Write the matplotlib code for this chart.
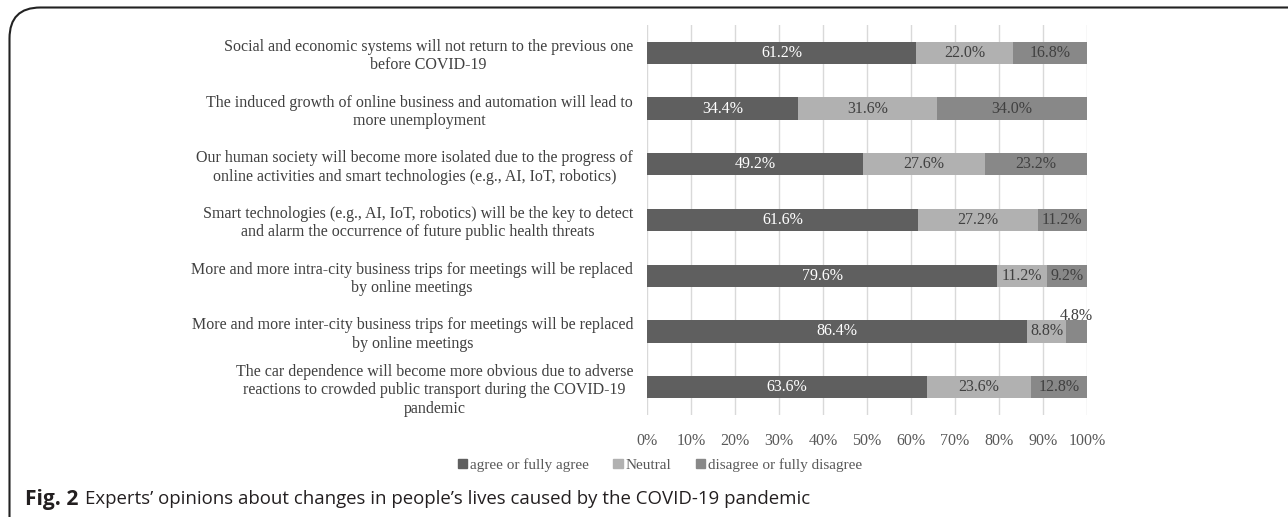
import matplotlib
matplotlib.use("Agg")
import matplotlib.pyplot as plt
from matplotlib.patches import Patch, FancyBboxPatch

plt.rcParams.update({"font.family": "Liberation Serif", "font.size": 11})

statements = [
    "Social and economic systems will not return to the previous one\nbefore COVID-19",
    "The induced growth of online business and automation will lead to\nmore unemployment",
    "Our human society will become more isolated due to the progress of\nonline activities and smart technologies (e.g., AI, IoT, robotics)",
    "Smart technologies (e.g., AI, IoT, robotics) will be the key to detect\nand alarm the occurrence of future public health threats",
    "More and more intra-city business trips for meetings will be replaced\nby online meetings",
    "More and more inter-city business trips for meetings will be replaced\nby online meetings",
    "The car dependence will become more obvious due to adverse\nreactions to crowded public transport during the COVID-19\npandemic",
]
agree = [61.2, 34.4, 49.2, 61.6, 79.6, 86.4, 63.6]
neutral = [22.0, 31.6, 27.6, 27.2, 11.2, 8.8, 23.6]
disagree = [16.8, 34.0, 23.2, 11.2, 9.2, 4.8, 12.8]
series_names = ["agree or fully agree", "Neutral", "disagree or fully disagree"]
colors = ["#5f5f5f", "#b1b1b1", "#888888"]
text_colors = ["white", "#404040", "#404040"]

W, H = 1288, 517
fig = plt.figure(figsize=(W / 100, H / 100), dpi=100)
ax = fig.add_axes([647 / W, 1 - 415 / H, (1087 - 647) / W, (415 - 25) / H])

ypos = list(range(len(statements)))
left = [0.0] * len(statements)
for vals, name, c, tc in zip([agree, neutral, disagree], series_names, colors, text_colors):
    bars = ax.barh(ypos, vals, left=left, height=0.4, color=c, label=name, zorder=3)
    for b, v, l in zip(bars, vals, left):
        cx = l + v / 2
        cy = b.get_y() + b.get_height() / 2
        if v < 6:
            ax.text(cx, b.get_y() - 0.01, f"{v:.1f}%", ha="center", va="baseline",
                    color="#404040", fontsize=11.5, zorder=4)
        else:
            ax.text(cx, cy, f"{v:.1f}%", ha="center", va="center", color=tc,
                    fontsize=11.5, zorder=4)
    left = [l + v for l, v in zip(left, vals)]

ax.set_xlim(0, 100)
ax.set_ylim(len(statements) - 0.5, -0.5)
ax.set_xticks(range(0, 101, 10))
ax.set_xticklabels([f"{t}%" for t in range(0, 101, 10)])
ax.set_yticks(ypos)
ax.set_yticklabels(statements, multialignment="center")
ax.tick_params(axis="x", length=0, pad=13, labelsize=11.5, labelcolor="#595959")
ax.tick_params(axis="y", length=0, pad=10, labelsize=11.5, labelcolor="#404040")
ax.grid(axis="x", color="#d9d9d9", lw=1, zorder=0)
for s in ax.spines.values():
    s.set_visible(False)

handles = [Patch(color=c) for c in colors]
fig.legend(handles, series_names, loc="center", bbox_to_anchor=(660 / W, 1 - 465 / H),
           ncol=3, frameon=False, fontsize=11, handlelength=0.6, handleheight=0.6,
           handletextpad=0.2, columnspacing=1.6, labelcolor="#595959")

# caption: bold label then plain text, fitted to the reference width
cap_y = 1 - 499 / H
t1 = fig.text(25 / W, cap_y, "Fig. 2", fontsize=13, weight="bold", va="center", ha="left",
              family="Open Sans", color="#231f20")
t2 = fig.text(85 / W, cap_y, "Experts\u2019 opinions about changes in people\u2019s lives caused by the COVID-19 pandemic",
              fontsize=13, va="center", ha="left", family="Open Sans", color="#231f20")
r = fig.canvas.get_renderer()
w2 = t2.get_window_extent(r).width
fs = 13 * (806 - 85) / w2
t2.set_fontsize(fs)
w1 = t1.get_window_extent(r).width
t1.set_fontsize(13 * 53 / w1 * 1.0 if w1 > 0 else fs)

box = FancyBboxPatch((9.5 / W, -40 / H), 1.2, 1 - 7.5 / H + 40 / H,
                     boxstyle="round,pad=0,rounding_size=0.024", transform=fig.transFigure,
                     fill=False, ec="#222222", lw=1.5, mutation_aspect=W / H)
fig.patches.append(box)

fig.savefig("out.png", dpi=100)
